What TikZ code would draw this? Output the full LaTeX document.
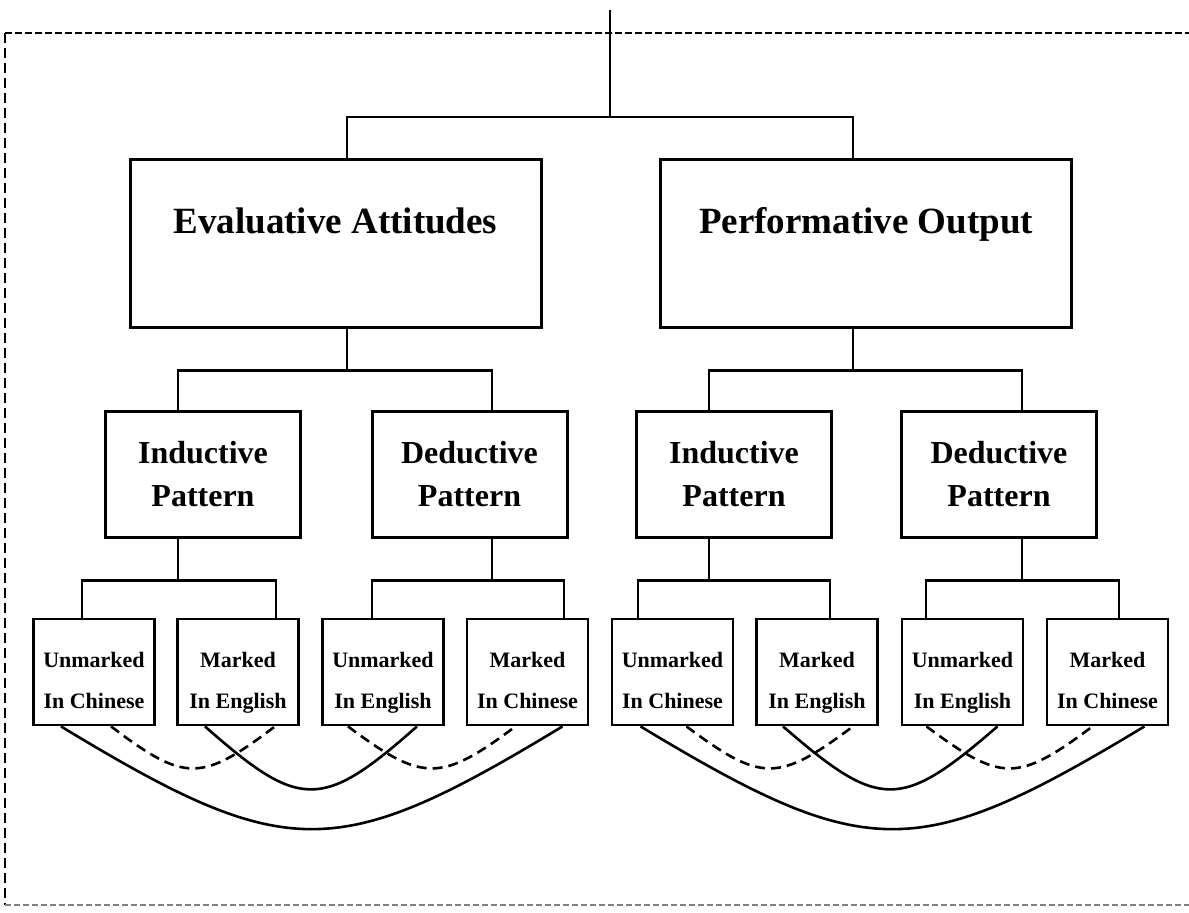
\documentclass[tikz,border=0pt]{standalone}
\usepackage{fontspec}
\setmainfont{Liberation Serif}

\tikzset{
  bigbox/.style={draw, line width=3pt, minimum width=411pt, minimum height=168pt,
    inner sep=0pt, font=\bfseries\fontsize{37}{44}\selectfont,
    text height=25pt, text depth=45pt},
  midbox/.style={draw, line width=3pt, minimum width=195pt, minimum height=126pt,
    inner sep=0pt, align=center, font=\bfseries\fontsize{32}{43}\selectfont},
  leafbox/.style={draw, line width=2.8pt, minimum width=121pt, minimum height=106pt,
    inner sep=0pt, align=center, font=\bfseries\fontsize{22}{41}\selectfont,
    text height=79pt, text depth=6pt},
  link/.style={line width=2.6pt},
  dashlink/.style={line width=2.6pt, dash pattern=on 10pt off 6pt},
}

\begin{document}
\begin{tikzpicture}[x=1pt,y=-1pt]
            \useasboundingbox (0,0) rectangle (1189,913);

            % dashed frame round the whole tree
            \draw[line width=2.6pt, dash pattern=on 7pt off 3pt] (5,33) -- (1195,33);
            \draw[line width=2pt, dash pattern=on 10pt off 5pt] (5,33) -- (5,905);
            \draw[line width=1.2pt, gray, dash pattern=on 6pt off 3pt] (5,905) -- (1195,905);

            % top level
            \node[bigbox] (ea) at (335.5,243) {Evaluative Attitudes};
            \node[bigbox] (po) at (866,243) {Performative Output};

            % patterns
            \node[midbox] (ind1) at (203,474) {Inductive\\Pattern};
            \node[midbox] (ded1) at (469.5,474) {Deductive\\Pattern};
            \node[midbox] (ind2) at (734,474) {Inductive\\Pattern};
            \node[midbox] (ded2) at (999,474) {Deductive\\Pattern};

            % marked / unmarked leaves
            \node[leafbox] (l1) at (94,672) {Unmarked\\In Chinese};
            \node[leafbox] (l2) at (238,672) {Marked\\In English};
            \node[leafbox] (l3) at (383,672) {Unmarked\\In English};
            \node[leafbox] (l4) at (527.5,672) {Marked\\In Chinese};
            \node[leafbox] (l5) at (672.5,672) {Unmarked\\In Chinese};
            \node[leafbox] (l6) at (817,672) {Marked\\In English};
            \node[leafbox] (l7) at (962.5,672) {Unmarked\\In English};
            \node[leafbox] (l8) at (1107.5,672) {Marked\\In Chinese};

            % tree lines
            \coordinate (root) at (610,10);
            \draw[line width=2pt] (root) -- ++(0,107) coordinate (rootbar);
            \draw[link] (rootbar) -| ([xshift=11.5]ea.north);
            \draw[link] (rootbar) -| ([xshift=-13]po.north);

            \draw[link] ([xshift=11.5]ea.south) -- ++(0,42) coordinate (eabar);
            \draw[link] (eabar) -| ([xshift=-25]ind1.north);
            \draw[link] (eabar) -| ([xshift=22.5]ded1.north);
            \draw[link] ([xshift=-13]po.south) -- ++(0,42) coordinate (pobar);
            \draw[link] (pobar) -| ([xshift=-25]ind2.north);
            \draw[link] (pobar) -| ([xshift=23]ded2.north);

            \draw[link] ([xshift=-25]ind1.south) -- ++(0,42) coordinate (i1bar);
            \draw[link] (i1bar) -| ([xshift=-12]l1.north);
            \draw[link] (i1bar) -| ([xshift=38]l2.north);
            \draw[link] ([xshift=22.5]ded1.south) -- ++(0,42) coordinate (d1bar);
            \draw[link] (d1bar) -| ([xshift=-11]l3.north);
            \draw[link] (d1bar) -| ([xshift=36.5]l4.north);
            \draw[link] ([xshift=-25]ind2.south) -- ++(0,42) coordinate (i2bar);
            \draw[link] (i2bar) -| ([xshift=-34.5]l5.north);
            \draw[link] (i2bar) -| ([xshift=13]l6.north);
            \draw[link] ([xshift=23]ded2.south) -- ++(0,42) coordinate (d2bar);
            \draw[link] (d2bar) -| ([xshift=-36.5]l7.north);
            \draw[link] (d2bar) -| ([xshift=11.5]l8.north);

            % curves under the leaves, left group
            \draw[link] ([xshift=-33]l1.south) .. controls +(226,137) and +(-226,137) .. ([xshift=35]l4.south);
            \draw[link] ([xshift=-33]l2.south) .. controls +(95,84) and +(-95,84) .. ([xshift=34]l3.south);
            \draw[dashlink] ([xshift=17]l1.south) .. controls +(74,56) and +(-74,56) .. ([xshift=37]l2.south);
            \draw[dashlink] ([xshift=-35]l3.south) .. controls +(75,56) and +(-75,56) .. ([xshift=-12]l4.south);

            % right group
            \draw[link] ([xshift=-32]l5.south) .. controls +(227,137) and +(-227,137) .. ([xshift=37]l8.south);
            \draw[link] ([xshift=-34]l6.south) .. controls +(97,84) and +(-97,84) .. ([xshift=35]l7.south);
            \draw[dashlink] ([xshift=14]l5.south) .. controls +(75,56) and +(-75,56) .. ([xshift=36]l6.south);
            \draw[dashlink] ([xshift=-36]l7.south) .. controls +(75,56) and +(-75,56) .. ([xshift=-15]l8.south);
\end{tikzpicture}
\end{document}
